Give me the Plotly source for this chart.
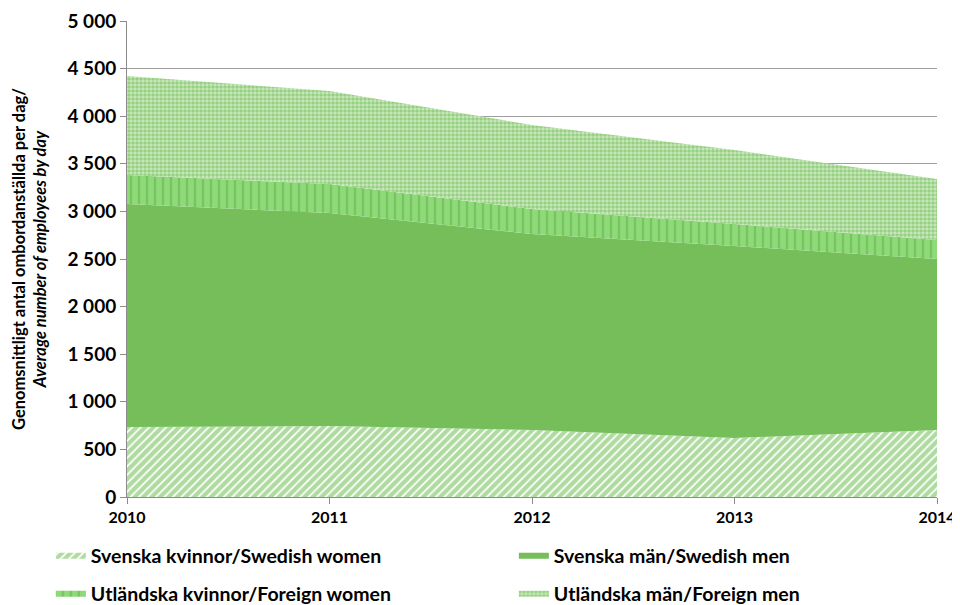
import plotly.graph_objects as go

years = [2010, 2011, 2012, 2013, 2014]
swedish_women = [735, 745, 705, 620, 705]
swedish_men = [2343, 2238, 2057, 2016, 1795]
foreign_women = [304, 305, 263, 232, 200]
foreign_men = [1040, 977, 883, 777, 640]

names = ["Svenska kvinnor/Swedish women", "Svenska män/Swedish men",
         "Utländska kvinnor/Foreign women", "Utländska män/Foreign men"]

fig = go.Figure()
# swedish women: diagonal hatch
fig.add_trace(go.Scatter(x=years, y=swedish_women, name="<b>" + names[0] + "</b>", stackgroup="one",
                         mode="none", fillcolor="white", legend="legend",
                         fillpattern=dict(shape="/", fgcolor="#5fb842", bgcolor="white",
                                          size=6, solidity=0.7)))
# swedish men: solid
fig.add_trace(go.Scatter(x=years, y=swedish_men, name="<b>" + names[1] + "</b>", stackgroup="one",
                         mode="none", fillcolor="#75be5a", legend="legend"))
# foreign women: vertical stripes
fig.add_trace(go.Scatter(x=years, y=foreign_women, name="<b>" + names[2] + "</b>", stackgroup="one",
                         mode="none", fillcolor="#8fd97a", legend="legend2",
                         fillpattern=dict(shape="|", fgcolor="#5db443", bgcolor="#8fd97a",
                                          size=8, solidity=0.3)))
# foreign men: fine checker
fig.add_trace(go.Scatter(x=years, y=foreign_men, name="<b>" + names[3] + "</b>", stackgroup="one",
                         mode="none", fillcolor="#a9da95", legend="legend2",
                         fillpattern=dict(shape=".", fgcolor="#5fb544", bgcolor="#cdeac1",
                                          size=4, solidity=0.65)))

# one horizontal legend per row
leg = dict(orientation="h", x=-0.094, xanchor="left", yanchor="middle",
           entrywidth=418, entrywidthmode="pixels", traceorder="normal",
           font=dict(family="Lato", size=19.5, color="black"),
           bgcolor="rgba(0,0,0,0)")

# page has an 8px body margin, so margins are shifted by that much
fig.update_layout(
    width=960, height=605,
    margin=dict(l=119, r=31, t=13, b=116, autoexpand=False),
    plot_bgcolor="white", paper_bgcolor="white",
    separators=", ",
    font=dict(family="Lato", color="black"),
    showlegend=True,
    legend=dict(leg, y=-0.124),
    legend2=dict(leg, y=-0.204),
)
fig.update_xaxes(range=[2010, 2014], tickvals=years, ticktext=["<b>%d</b>" % y for y in years],
                 ticks="outside", ticklen=6,
                 tickcolor="#8c8c8c", showline=True, linecolor="#8c8c8c", linewidth=1,
                 showgrid=False, zeroline=False,
                 tickfont=dict(size=16))
fig.update_yaxes(range=[0, 5000], dtick=500, tickformat=",d", ticks="outside", ticklen=6,
                 tickcolor="#8c8c8c", showline=True, linecolor="#8c8c8c", linewidth=1,
                 showgrid=True, gridcolor="#a0a0a0", gridwidth=1, zeroline=False,
                 tickfont=dict(size=19, weight="bold"),
                 title=dict(text="<b>Genomsnittligt antal ombordanställda per dag/</b><br><b><i>Average number of employees by day</i></b>",
                            font=dict(family="Lato", size=16.5), standoff=16))

fig.write_html("out.html")
